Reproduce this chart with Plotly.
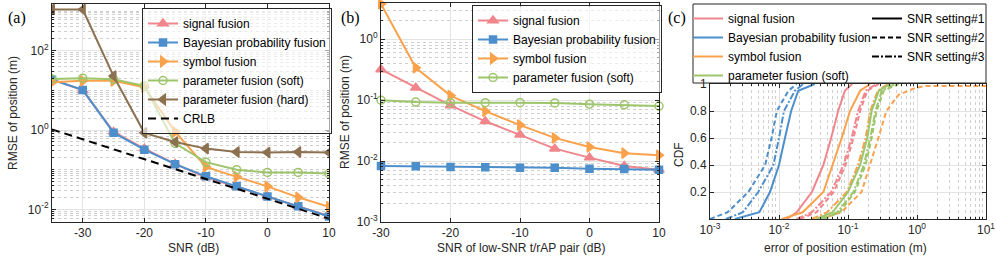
import plotly.graph_objects as go

# ---------------- data: panel (a) ----------------
snr_a = [-35, -30, -25, -20, -15, -10, -5, 0, 5, 10]
rmse_a_signal = [19, 10, 0.9, 0.34, 0.14, 0.064, 0.037, 0.021, 0.012, 0.0068]
rmse_a_bayes = [18.5, 10.3, 0.86, 0.32, 0.138, 0.068, 0.038, 0.021, 0.012, 0.0066]
rmse_a_symbol = [16, 17.4, 17.4, 12, 0.91, 0.118, 0.066, 0.038, 0.020, 0.0115]
rmse_a_soft = [19.5, 20.4, 19, 13, 0.46, 0.155, 0.10, 0.085, 0.085, 0.080]
rmse_a_hard = [1100, 1100, 23, 0.85, 0.50, 0.34, 0.28, 0.27, 0.28, 0.27]
rmse_a_crlb = [1.04, 0.58, 0.33, 0.185, 0.104, 0.058, 0.033, 0.0185, 0.0104, 0.0058]
ticks_snr = [-30, -20, -10, 0, 10]
ticklabels_snr = ['-30', '-20', '-10', '0', '10']

# ---------------- data: panel (b) ----------------
snr_b = [-30, -25, -20, -15, -10, -5, 0, 5, 10]
rmse_b_signal = [0.32, 0.16, 0.082, 0.045, 0.027, 0.016, 0.0114, 0.0083, 0.0072]
rmse_b_bayes = [0.0083, 0.0082, 0.0080, 0.0079, 0.0078, 0.0078, 0.0075, 0.0074, 0.0072]
rmse_b_symbol = [3.8, 0.34, 0.119, 0.066, 0.039, 0.024, 0.017, 0.0135, 0.0125]
rmse_b_soft = [0.100, 0.093, 0.091, 0.091, 0.091, 0.090, 0.086, 0.084, 0.080]

# ---------------- data: panel (c) (error quantiles at CDF levels) ----------------
cdf_levels = [0, 0.05, 0.2, 0.4, 0.6, 0.8, 0.95, 1.0]
err_signal_s1 = [0.013, 0.018, 0.030, 0.044, 0.057, 0.072, 0.090, 0.115]
err_signal_s2 = [0.020, 0.035, 0.062, 0.092, 0.120, 0.150, 0.190, 0.280]
err_signal_s3 = [0.018, 0.030, 0.057, 0.086, 0.113, 0.140, 0.180, 0.260]
err_bayes_s1 = [0.0023, 0.0052, 0.0074, 0.0100, 0.0122, 0.0150, 0.0190, 0.033]
err_bayes_s2 = [0.0010, 0.0018, 0.0036, 0.0063, 0.0078, 0.0093, 0.0137, 0.018]
err_bayes_s3 = [0.0017, 0.0030, 0.0050, 0.0083, 0.0100, 0.0118, 0.0170, 0.0224]
err_symbol_s1 = [0.011, 0.022, 0.044, 0.060, 0.081, 0.107, 0.150, 0.210]
err_symbol_s3 = [0.030, 0.050, 0.096, 0.140, 0.180, 0.210, 0.270, 0.380]
err_soft_s1 = [0.035, 0.060, 0.100, 0.150, 0.190, 0.220, 0.280, 0.410]
err_soft_s2 = [0.045, 0.075, 0.126, 0.180, 0.220, 0.260, 0.330, 0.540]
err_soft_s3 = [0.040, 0.070, 0.120, 0.170, 0.210, 0.250, 0.310, 0.480]
cdf_levels_symbol_s2 = [0, 0.05, 0.2, 0.4, 0.6, 0.8, 0.92, 0.97, 0.985, 0.985, 1.0]
err_symbol_s2 = [0.040, 0.080, 0.157, 0.210, 0.275, 0.360, 0.540, 0.930, 1.300, 9.9, 10.0]

# ---------------- styles ----------------
PINK = '#F0868C'
BLUE = '#4D8FCC'
ORANGE = '#F9A24B'
GREEN = '#9DC56B'
BROWN = '#8C7150'
FONT = 'Liberation Sans, Arial, sans-serif'
SERIF = 'Liberation Serif, Times New Roman, serif'
AX = '#262626'
GRID = '#e3e3e3'
MINOR = '#cfcfcf'
LW = 2
DASH = '5px,3px'
DASHDOT = '7px,2px,2px,2px'

W, H = 996, 260


def px(x):
    return x / W


def py(y):
    return 1 - y / H


fig = go.Figure()

# panel (a)
series_a = [
    ('signal fusion', rmse_a_signal, PINK, 'triangle-up', 9),
    ('Bayesian probability fusion', rmse_a_bayes, BLUE, 'square', 7),
    ('symbol fusion', rmse_a_symbol, ORANGE, 'triangle-right', 9),
    ('parameter fusion (soft)', rmse_a_soft, GREEN, 'circle-open', 8),
    ('parameter fusion (hard)', rmse_a_hard, BROWN, 'triangle-left', 9),
]
for name, vals, col, sym, size in series_a:
    fig.add_trace(go.Scatter(
        x=snr_a, y=vals, name=name, mode='lines+markers',
        line=dict(color=col, width=LW),
        marker=dict(symbol=sym, size=size, color=col, line=dict(color=col, width=1.5)),
        xaxis='x', yaxis='y', legend='legend'))
fig.add_trace(go.Scatter(
    x=snr_a, y=rmse_a_crlb, name='CRLB', mode='lines',
    line=dict(color='black', width=LW, dash='8px,5px'),
    xaxis='x', yaxis='y', legend='legend'))

# panel (b)
series_b = [
    ('signal fusion', rmse_b_signal, PINK, 'triangle-up', 9),
    ('Bayesian probability fusion', rmse_b_bayes, BLUE, 'square', 7),
    ('symbol fusion', rmse_b_symbol, ORANGE, 'triangle-right', 9),
    ('parameter fusion (soft)', rmse_b_soft, GREEN, 'circle-open', 8),
]
for name, vals, col, sym, size in series_b:
    fig.add_trace(go.Scatter(
        x=snr_b, y=vals, name=name, mode='lines+markers',
        line=dict(color=col, width=LW),
        marker=dict(symbol=sym, size=size, color=col, line=dict(color=col, width=1.5)),
        xaxis='x2', yaxis='y2', legend='legend2', cliponaxis=False))

# panel (c)
curves_c = [
    ('signal fusion', err_signal_s1, cdf_levels, PINK, 'solid', True),
    ('signal fusion', err_signal_s2, cdf_levels, PINK, DASH, False),
    ('signal fusion', err_signal_s3, cdf_levels, PINK, DASHDOT, False),
    ('Bayesian probability fusion', err_bayes_s1, cdf_levels, BLUE, 'solid', True),
    ('Bayesian probability fusion', err_bayes_s2, cdf_levels, BLUE, DASH, False),
    ('Bayesian probability fusion', err_bayes_s3, cdf_levels, BLUE, DASHDOT, False),
    ('symbol fusion', err_symbol_s1, cdf_levels, ORANGE, 'solid', True),
    ('symbol fusion', err_symbol_s2, cdf_levels_symbol_s2, ORANGE, DASH, False),
    ('symbol fusion', err_symbol_s3, cdf_levels, ORANGE, DASHDOT, False),
    ('parameter fusion (soft)', err_soft_s1, cdf_levels, GREEN, 'solid', True),
    ('parameter fusion (soft)', err_soft_s2, cdf_levels, GREEN, DASH, False),
    ('parameter fusion (soft)', err_soft_s3, cdf_levels, GREEN, DASHDOT, False),
]
for name, xs, ys, col, dash, show in curves_c:
    fig.add_trace(go.Scatter(
        x=xs, y=ys, name=name, mode='lines', showlegend=show,
        line=dict(color=col, width=LW, dash=dash),
        xaxis='x3', yaxis='y3', legend='legend3'))

for name, dash in [('SNR setting#1', 'solid'), ('SNR setting#2', DASH), ('SNR setting#3', DASHDOT)]:
    fig.add_trace(go.Scatter(
        x=[None], y=[None], name=name, mode='lines',
        line=dict(color='black', width=LW, dash=dash),
        xaxis='x3', yaxis='y3', legend='legend4'))

tickfont = dict(family=FONT, size=12, color=AX)
common = dict(showline=True, linecolor=AX, linewidth=1, mirror='ticks', ticks='inside',
              ticklen=4, tickcolor=AX, tickfont=tickfont, zeroline=False, automargin=False,
              showgrid=True, gridcolor=GRID, gridwidth=1)
minor_log = dict(dtick='D1', ticks='inside', ticklen=2, tickcolor=AX,
                 showgrid=True, gridcolor=MINOR, griddash='dot', gridwidth=1)
legfont = dict(family=FONT, size=12, color='black')

fig.update_layout(
    template='none',
    width=W, height=H, autosize=False,
    margin=dict(l=0, r=0, t=0, b=0, pad=0),
    paper_bgcolor='white', plot_bgcolor='white',
    font=dict(family=FONT, size=12, color=AX),
    xaxis=dict(domain=[px(52), px(329)], range=[-35, 10],
               tickvals=ticks_snr, ticktext=ticklabels_snr, anchor='y', **common),
    yaxis=dict(domain=[py(222), py(4)], type='log', range=[-2.32, 3.18], anchor='x',
               tickvals=[0.01, 1, 100],
               ticktext=['10<sup>-2</sup>', '10<sup>0</sup>', '10<sup>2</sup>'],
               minor=minor_log, **common),
    xaxis2=dict(domain=[px(381), px(659)], range=[-30, 10],
                tickvals=ticks_snr, ticktext=ticklabels_snr, anchor='y2', **common),
    yaxis2=dict(domain=[py(222), py(3.3)], type='log', range=[-3, 0.59], anchor='x2',
                tickvals=[0.001, 0.01, 0.1, 1],
                ticktext=['10<sup>-3</sup>', '10<sup>-2</sup>', '10<sup>-1</sup>', '10<sup>0</sup>'],
                minor=minor_log, **common),
    xaxis3=dict(domain=[px(710), px(986)], type='log', range=[-3, 1], anchor='y3',
                tickvals=[0.001, 0.01, 0.1, 1, 10],
                ticktext=['10<sup>-3</sup>', '10<sup>-2</sup>', '10<sup>-1</sup>',
                          '10<sup>0</sup>', '10<sup>1</sup>'],
                minor=minor_log, **common),
    yaxis3=dict(domain=[py(219), py(84)], range=[0, 1], anchor='x3',
                tickvals=[0.2, 0.4, 0.6, 0.8, 1], ticktext=['0.2', '0.4', '0.6', '0.8', '1'],
                **common),
    legend=dict(x=px(142), y=py(8), xanchor='left', yanchor='top',
                bgcolor='rgba(255,255,255,0.6)', bordercolor=AX, borderwidth=1,
                font=legfont, itemwidth=30, tracegroupgap=0),
    legend2=dict(x=px(472), y=py(5), xanchor='left', yanchor='top',
                 bgcolor='rgba(255,255,255,0.6)', bordercolor=AX, borderwidth=1,
                 font=legfont, itemwidth=30, tracegroupgap=0),
    legend3=dict(x=px(688), y=py(4), xanchor='left', yanchor='top',
                 bgcolor='rgba(255,255,255,0)', borderwidth=0,
                 font=legfont, itemwidth=30, tracegroupgap=0),
    legend4=dict(x=px(867), y=py(4), xanchor='left', yanchor='top',
                 bgcolor='rgba(255,255,255,0)', borderwidth=0,
                 font=legfont, itemwidth=30, tracegroupgap=0),
)

fig.add_shape(type='rect', xref='paper', yref='paper',
              x0=px(693), x1=px(986), y0=py(83), y1=py(4),
              line=dict(color=AX, width=1), fillcolor='rgba(0,0,0,0)', layer='above')

ann = [
    dict(text='(a)', x=px(6), y=py(18), xanchor='left', font=dict(family=SERIF, size=16, color='black')),
    dict(text='(b)', x=px(339), y=py(18), xanchor='left', font=dict(family=SERIF, size=16, color='black')),
    dict(text='(c)', x=px(666), y=py(18), xanchor='left', font=dict(family=SERIF, size=16, color='black')),
    dict(text='SNR (dB)', x=px(193), y=py(248), font=dict(family=FONT, size=12, color=AX)),
    dict(text='SNR of low-SNR t/rAP pair (dB)', x=px(521), y=py(248), font=dict(family=FONT, size=12, color=AX)),
    dict(text='error of position estimation (m)', x=px(845), y=py(248), font=dict(family=FONT, size=12, color=AX)),
    dict(text='RMSE of position (m)', x=px(13), y=py(113), textangle=-90, font=dict(family=FONT, size=12, color=AX)),
    dict(text='RMSE of position (m)', x=px(345), y=py(112), textangle=-90, font=dict(family=FONT, size=12, color=AX)),
    dict(text='CDF', x=px(679), y=py(155), textangle=-90, font=dict(family=FONT, size=12, color=AX)),
]
for a in ann:
    a.setdefault('xanchor', 'center')
    fig.add_annotation(xref='paper', yref='paper', yanchor='middle', showarrow=False, **a)

fig.write_html('out.html', config={'displayModeBar': False},
               post_script="document.body.style.margin='0px';")
